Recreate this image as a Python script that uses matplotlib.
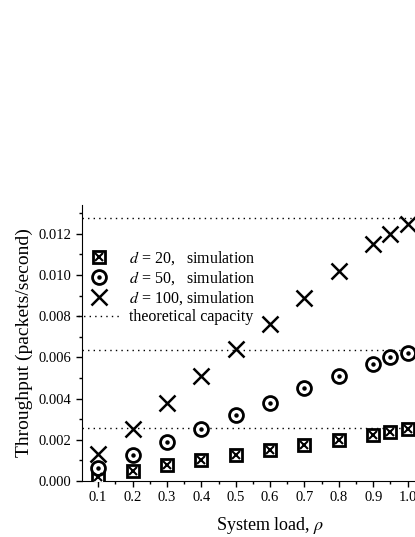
import matplotlib
matplotlib.use('Agg')
import matplotlib.pyplot as plt
from matplotlib.legend_handler import HandlerTuple
from matplotlib.ticker import MultipleLocator

plt.rcParams['font.family'] = ['Liberation Serif', 'DejaVu Serif']
plt.rcParams['mathtext.fontset'] = 'stix'

# System load values
load = [0.1, 0.2, 0.3, 0.4, 0.5, 0.6, 0.7, 0.8, 0.9, 0.95, 1.0]

# Simulated throughput for each d
thr_d20 = [0.0002, 0.0005, 0.00078, 0.00103, 0.00125, 0.0015, 0.00175, 0.002, 0.00225, 0.00237, 0.0025]
thr_d50 = [0.00062, 0.00125, 0.0019, 0.0025, 0.0032, 0.0038, 0.0045, 0.0051, 0.0057, 0.006, 0.0062]
thr_d100 = [0.0013, 0.0025, 0.0038, 0.0051, 0.0064, 0.0076, 0.0089, 0.0102, 0.0115, 0.012, 0.0125]

# Theoretical capacities
capacity = [0.00255, 0.00637, 0.01275]

fig = plt.figure(figsize=(4.15, 5.37), dpi=100)
ax = fig.add_axes([0.1976, 0.1043, 0.826, 0.514])

for c in capacity:
    ax.axhline(c, color='k', linestyle=(0, (1, 3)), linewidth=1.0, zorder=1)

# d = 20: square with a cross inside
sq = ax.plot(load, thr_d20, linestyle='none', marker='s', markersize=8.5,
             markerfacecolor='white', markeredgecolor='k', markeredgewidth=2.0, zorder=3)[0]
sqx = ax.plot(load, thr_d20, linestyle='none', marker='x', markersize=5.5,
              color='k', markeredgewidth=1.5, zorder=4)[0]

# d = 50: circle with a dot inside
ci = ax.plot(load, thr_d50, linestyle='none', marker='o', markersize=10,
             markerfacecolor='white', markeredgecolor='k', markeredgewidth=2.0, zorder=3)[0]
cid = ax.plot(load, thr_d50, linestyle='none', marker='o', markersize=2.2,
              color='k', zorder=4)[0]

# d = 100: cross
cr = ax.plot(load, thr_d100, linestyle='none', marker='x', markersize=11,
             color='k', markeredgewidth=1.8, zorder=3)[0]

cap_line, = ax.plot([], [], color='k', linestyle=(0, (1, 3)), linewidth=1.0)

ax.legend([(sq, sqx), (ci, cid), cr, cap_line],
          ['$d$ = 20,   simulation', '$d$ = 50,   simulation',
           '$d$ = 100, simulation', 'theoretical capacity'],
          handler_map={tuple: HandlerTuple(ndivide=1)},
          loc='upper left', bbox_to_anchor=(-0.03, 0.862), frameon=False,
          fontsize=11.5, handlelength=2.6, handletextpad=0.6, labelspacing=0.14,
          borderaxespad=0.0)

ax.set_xlim(0.053, 1.05)
ax.set_ylim(0, 0.0134)
ax.set_xticks([0.1, 0.2, 0.3, 0.4, 0.5, 0.6, 0.7, 0.8, 0.9, 1.0])
ax.set_xticklabels(['0.1', '0.2', '0.3', '0.4', '0.5', '0.6', '0.7', '0.8', '0.9', '1.0'])
ax.xaxis.set_minor_locator(MultipleLocator(0.05))
ax.yaxis.set_major_locator(MultipleLocator(0.002))
ax.yaxis.set_minor_locator(MultipleLocator(0.001))
ax.yaxis.set_major_formatter(matplotlib.ticker.FormatStrFormatter('%.3f'))

ax.spines['top'].set_visible(False)
ax.spines['right'].set_visible(False)
ax.tick_params(which='major', direction='out', length=4, width=1, labelsize=10.5)
ax.tick_params(which='minor', direction='out', length=2.5, width=1)

ax.set_xlabel('System load, $\\rho$', fontsize=13)
ax.xaxis.set_label_coords(0.548, -0.125)
ax.set_ylabel('Throughput (packets/second)', fontsize=14, labelpad=4)

fig.savefig('out.png', dpi=100)
